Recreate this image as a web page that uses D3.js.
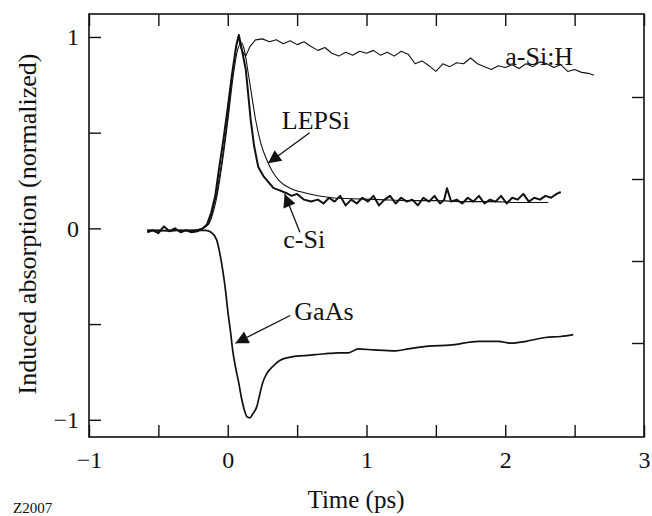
<!DOCTYPE html>
<html>
<head>
<meta charset="utf-8">
<script src="https://cdn.jsdelivr.net/npm/d3@7"></script>
<style>
    body { margin: 0; background: #fff; }
</style>
</head>
<body>
<div id="chart"></div>
<script>

// time axis (ps) and normalized induced absorption
let cSiTime = [-0.58,-0.54,-0.50,-0.46,-0.42,-0.38,-0.34,-0.30,-0.26,-0.22,-0.18,-0.15,-0.12,-0.09,-0.065,-0.03,0.0,0.03,0.06,0.08,0.10,0.13,0.165,0.19,0.22,0.26,0.295,0.33,0.37,0.42,0.46,0.50,0.55,0.60,
    0.65,0.69,0.73,0.77,0.81,0.85,0.89,0.93,0.97,1.01,1.05,1.09,1.13,1.17,1.21,1.25,1.29,1.33,1.37,1.41,1.45,1.49,1.53,1.56,1.58,1.61,1.65,1.69,1.73,1.77,1.81,1.85,1.89,1.93,1.97,2.01,2.05,2.09,2.13,2.17,2.21,2.25,2.29,2.33,2.37,2.40];
let cSiVals = [-0.02,-0.01,-0.025,0.01,-0.015,0.0,-0.02,-0.01,-0.02,-0.015,0.0,0.02,0.08,0.17,0.30,0.47,0.63,0.80,0.95,1.01,0.94,0.83,0.57,0.43,0.32,0.27,0.24,0.21,0.20,0.185,0.17,0.18,0.15,0.14,
    0.15,0.13,0.16,0.14,0.17,0.12,0.15,0.13,0.16,0.14,0.17,0.12,0.15,0.17,0.13,0.16,0.14,0.15,0.12,0.16,0.14,0.17,0.13,0.15,0.21,0.14,0.15,0.13,0.16,0.14,0.17,0.13,0.15,0.14,0.17,0.13,0.16,0.15,0.18,0.14,0.16,0.15,0.17,0.16,0.18,0.19];

let lepsiTime = [-0.58,-0.50,-0.42,-0.34,-0.26,-0.18,-0.14,-0.12,-0.08,-0.04,0.0,0.04,0.07,0.10,0.12,0.15,0.18,0.20,0.24,0.28,0.32,0.37,0.45,0.56,0.65,0.75,0.90,1.10,1.30,1.50,1.70,1.90,2.10,2.31];
let lepsiVals = [-0.01,-0.01,-0.015,-0.01,-0.01,0.0,0.02,0.05,0.16,0.34,0.56,0.80,0.93,0.97,0.93,0.80,0.66,0.57,0.44,0.36,0.30,0.25,0.21,0.185,0.17,0.16,0.155,0.15,0.145,0.145,0.14,0.14,0.135,0.135];

let aSiTime = [-0.58,-0.50,-0.42,-0.34,-0.26,-0.18,-0.14,-0.12,-0.08,-0.04,0.0,0.03,0.06,0.075,0.10,0.13,0.16,0.20,0.25,0.30,0.35,0.40,0.45,0.50,0.55,0.60,0.65,0.70,0.75,0.80,0.85,0.90,0.95,1.00,1.05,1.10,1.15,1.20,1.25,1.30,1.35,1.40,1.45,1.50,1.55,1.60,1.65,1.70,1.75,1.80,1.85,1.90,1.95,2.00,2.05,2.10,2.15,2.20,2.25,2.30,2.35,2.40,2.45,2.50,2.55,2.60,2.64];
let aSiVals = [-0.01,-0.015,-0.01,-0.01,-0.015,0.0,0.02,0.06,0.18,0.36,0.58,0.78,0.95,1.0,0.93,0.90,0.95,0.985,0.99,0.975,0.985,0.965,0.98,0.96,0.975,0.95,0.93,0.945,0.915,0.90,0.92,0.905,0.925,0.915,0.93,0.905,0.92,0.90,0.925,0.91,0.86,0.875,0.85,0.82,0.86,0.845,0.865,0.86,0.89,0.86,0.845,0.83,0.85,0.84,0.855,0.835,0.86,0.845,0.87,0.86,0.84,0.855,0.82,0.83,0.815,0.81,0.80];

let gaasTime = [-0.58,-0.50,-0.42,-0.34,-0.26,-0.20,-0.16,-0.12,-0.08,-0.06,-0.036,-0.015,0.0,0.02,0.036,0.06,0.08,0.10,0.12,0.14,0.16,0.18,0.21,0.23,0.25,0.28,0.30,0.34,0.375,0.47,0.55,0.63,0.70,0.80,0.87,0.94,1.05,1.21,1.30,1.45,1.60,1.81,1.95,2.04,2.15,2.29,2.40,2.49];
let gaasVals = [-0.01,-0.01,-0.012,-0.01,-0.01,-0.01,-0.01,-0.02,-0.06,-0.12,-0.22,-0.33,-0.43,-0.54,-0.64,-0.74,-0.81,-0.89,-0.95,-0.985,-0.99,-0.97,-0.93,-0.87,-0.81,-0.76,-0.74,-0.71,-0.69,-0.67,-0.665,-0.66,-0.655,-0.65,-0.65,-0.63,-0.635,-0.64,-0.63,-0.615,-0.61,-0.59,-0.59,-0.60,-0.59,-0.57,-0.565,-0.555];

let xTicks = [-1,-0.5,0,0.5,1,1.5,2,2.5,3];
let yTicks = [-1,-0.5,0,0.5,1];
let rightTicks = [0,1,2,3];

let series = [
    {name: "a-Si:H", t: aSiTime, v: aSiVals, width: 1.1, curve: d3.curveLinear},
    {name: "LEPSi", t: lepsiTime, v: lepsiVals, width: 1.1, curve: d3.curveMonotoneX},
    {name: "c-Si", t: cSiTime, v: cSiVals, width: 2.0, curve: d3.curveLinear},
    {name: "GaAs", t: gaasTime, v: gaasVals, width: 1.7, curve: d3.curveMonotoneX}
];

// label text position, arrow tail and arrow tip in data units
let labels = [
    {text: "a-Si:H", x: 2.0, y: 0.855},
    {text: "LEPSi", x: 0.39, y: 0.52, from: [0.59, 0.50], to: [0.29, 0.34]},
    {text: "c-Si", x: 0.40, y: -0.10, from: [0.52, -0.02], to: [0.41, 0.18]},
    {text: "GaAs", x: 0.48, y: -0.48, from: [0.45, -0.455], to: [0.055, -0.60]}
];

let font = "'Liberation Serif', 'Times New Roman', Times, serif";
let width = 652, height = 516;

let svg = d3.select("#chart").append("svg")
    .attr("width", width)
    .attr("height", height)
    .attr("font-family", font);

let x = d3.scaleLinear().domain([-1, 3]).range([89, 644]);
let y = d3.scaleLinear().domain([-1.09, 1.12]).range([437, 14]);
// unlabeled ticks on the right edge
let y2 = d3.scaleLinear().domain([0, 3]).range([343, 97]);

let x0 = x.range()[0], x1 = x.range()[1];
let y0 = y.range()[1], y1 = y.range()[0];

let intLabel = d => Number.isInteger(d) ? String(d).replace("-", "\u2212") : "";

// axes, ticks pointing inward
svg.append("g")
    .attr("transform", `translate(0, ${y1})`)
    .call(d3.axisBottom(x).tickValues(xTicks).tickSizeInner(-12).tickSizeOuter(0).tickPadding(14).tickFormat(intLabel))
    .call(g => g.select(".domain").remove());

svg.append("g")
    .attr("transform", `translate(0, ${y0})`)
    .call(d3.axisTop(x).tickValues(xTicks).tickSizeInner(-12).tickSizeOuter(0).tickFormat(""))
    .call(g => g.select(".domain").remove());

svg.append("g")
    .attr("transform", `translate(${x0}, 0)`)
    .call(d3.axisLeft(y).tickValues(yTicks).tickSizeInner(-12).tickSizeOuter(0).tickPadding(10).tickFormat(intLabel))
    .call(g => g.select(".domain").remove());

svg.append("g")
    .attr("transform", `translate(${x1}, 0)`)
    .call(d3.axisRight(y2).tickValues(rightTicks).tickSizeInner(-12).tickSizeOuter(0).tickFormat(""))
    .call(g => g.select(".domain").remove());

svg.selectAll("g.tick text")
    .attr("font-family", font)
    .attr("font-size", 24)
    .attr("fill", "#111");

svg.selectAll(".tick line")
    .attr("stroke", "#111")
    .attr("stroke-width", 1.4);

// frame
svg.append("rect")
    .attr("x", x0)
    .attr("y", y0)
    .attr("width", x1 - x0)
    .attr("height", y1 - y0)
    .attr("fill", "none")
    .attr("stroke", "#111")
    .attr("stroke-width", 1.6);

// curves
svg.append("g").selectAll("path")
    .data(series)
    .enter().append("path")
    .attr("d", s => d3.line().curve(s.curve)
        .x((d, i) => x(s.t[i]))
        .y(d => y(d))(s.v))
    .attr("fill", "none")
    .attr("stroke", "#111")
    .attr("stroke-width", s => s.width)
    .attr("stroke-linejoin", "round");

// arrows
svg.append("defs").append("marker")
    .attr("id", "head")
    .attr("viewBox", "0 0 10 10")
    .attr("refX", 10)
    .attr("refY", 5)
    .attr("markerUnits", "userSpaceOnUse")
    .attr("markerWidth", 19)
    .attr("markerHeight", 13)
    .attr("orient", "auto")
    .append("path")
    .attr("d", "M0,0 L10,5 L0,10 Z")
    .attr("fill", "#111");

svg.append("g").selectAll("line")
    .data(labels.filter(d => d.from))
    .enter().append("line")
    .attr("x1", d => x(d.from[0]))
    .attr("y1", d => y(d.from[1]))
    .attr("x2", d => x(d.to[0]))
    .attr("y2", d => y(d.to[1]))
    .attr("stroke", "#111")
    .attr("stroke-width", 1.3)
    .attr("marker-end", "url(#head)");

svg.append("g").selectAll("text")
    .data(labels)
    .enter().append("text")
    .attr("x", d => x(d.x))
    .attr("y", d => y(d.y))
    .attr("font-size", 26)
    .attr("fill", "#111")
    .text(d => d.text);

// axis titles
svg.append("text")
    .attr("x", 356)
    .attr("y", 508)
    .attr("text-anchor", "middle")
    .attr("font-size", 25)
    .attr("fill", "#111")
    .text("Time (ps)");

svg.append("text")
    .attr("transform", "translate(36, 224) rotate(-90)")
    .attr("text-anchor", "middle")
    .attr("font-size", 26)
    .attr("fill", "#111")
    .text("Induced absorption (normalized)");

svg.append("text")
    .attr("x", 13)
    .attr("y", 513)
    .attr("font-size", 15)
    .attr("fill", "#111")
    .text("Z2007");

</script>
</body>
</html>
